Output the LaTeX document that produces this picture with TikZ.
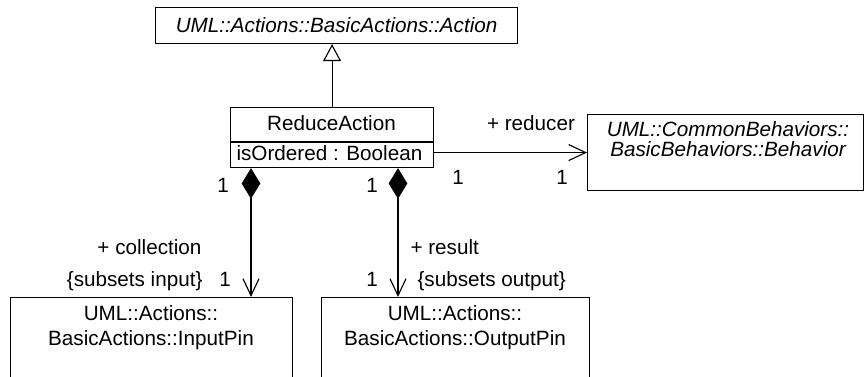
\documentclass[tikz,border=0pt]{standalone}
\usepackage{fontspec}
\setmainfont{Liberation Sans}
\usetikzlibrary{arrows.meta}
\begin{document}
\begin{tikzpicture}[x=0.75pt,y=-0.75pt,
  line width=0.85pt,
  font=\fontsize{15.5}{18.6}\selectfont,
  umlbox/.style={draw, rectangle, inner sep=0pt, anchor=north west},
  lbl/.style={anchor=base, inner sep=0pt},
  gen/.style={-{Triangle[open, length=12.75pt, width=13.5pt, fill=white]}},
  assoc/.style={-{Straight Barb[length=12.75pt, width=12pt]}},
  compo/.style={{Diamond[length=23pt, width=14pt]}-{Straight Barb[length=12.75pt, width=12pt]}}
]
\useasboundingbox (0,0) rectangle (867,377);
\clip (0,0) rectangle (867,377);

% boxes
\node[umlbox, minimum width={362*0.75pt}, minimum height={36*0.75pt}] (action) at (155,7) {};
\node[font=\fontsize{15.5}{18.6}\selectfont\itshape] at (action.center) {UML::Actions::BasicActions::Action};

\node[umlbox, minimum width={203*0.75pt}, minimum height={60*0.75pt}] (reduce) at (230,107) {};
\draw (230,142) -- (433,142);
\node[lbl] at (331.5,131) {ReduceAction};
\node[lbl, anchor=base west] at (236,161) {isOrdered : Boolean};

\node[umlbox, minimum width={276*0.75pt}, minimum height={76*0.75pt}] (behavior) at (587,114) {};
\node[lbl, font=\fontsize{15.5}{18.6}\selectfont\itshape] at (728,137) {UML::CommonBehaviors::};
\node[lbl, font=\fontsize{15.5}{18.6}\selectfont\itshape] at (728,157) {BasicBehaviors::Behavior};

\node[umlbox, minimum width={282*0.75pt}, minimum height={110*0.75pt}] (inpin) at (10,297) {};
\node[lbl] at (151,321) {UML::Actions::};
\node[lbl] at (151,346) {BasicActions::InputPin};

\node[umlbox, minimum width={268*0.75pt}, minimum height={110*0.75pt}] (outpin) at (321,297) {};
\node[lbl] at (455,321) {UML::Actions::};
\node[lbl] at (455,346) {BasicActions::OutputPin};

% connectors
\draw[gen] (reduce.north) -- (reduce.north |- action.south);
\draw[assoc] (reduce.east |- behavior.west) -- (behavior.west);
\draw[compo] ([xshift={21*0.75pt}]reduce.south west) -- ([xshift={21*0.75pt}]reduce.south west |- inpin.north);
\draw[compo] ([xshift={168*0.75pt}]reduce.south west) -- ([xshift={168*0.75pt}]reduce.south west |- outpin.north);

% labels
\node[lbl] at (531,131) {+ reducer};
\node[lbl] at (458,185) {1};
\node[lbl] at (562,185) {1};
\node[lbl] at (223,193) {1};
\node[lbl] at (372,193) {1};
\node[lbl, anchor=base east] at (202,255) {+ collection};
\node[lbl, anchor=base east] at (203,287) {\{subsets input\}};
\node[lbl] at (225,287) {1};
\node[lbl, anchor=base west] at (410,255) {+ result};
\node[lbl, anchor=base west] at (417,287) {\{subsets output\}};
\node[lbl] at (372,287) {1};
\end{tikzpicture}
\end{document}
